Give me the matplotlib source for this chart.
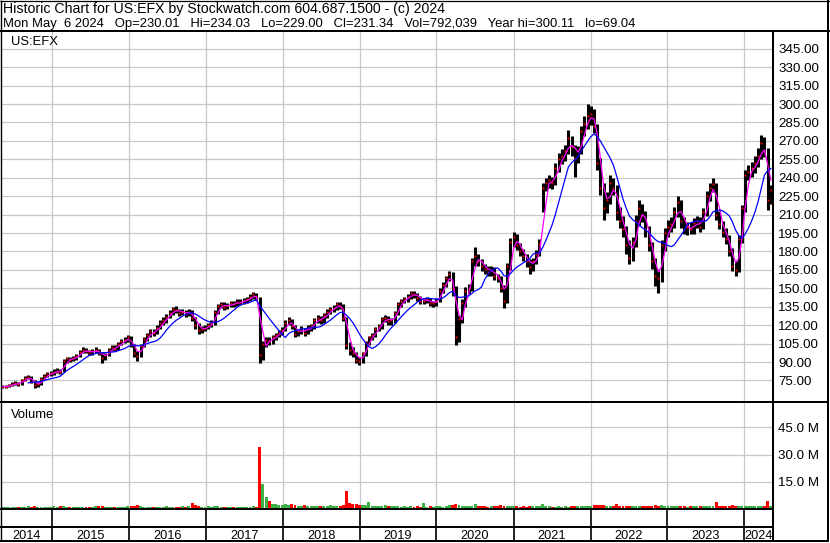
import matplotlib
matplotlib.use("Agg")
import matplotlib.pyplot as plt
from matplotlib.lines import Line2D
import pandas as pd

plt.rcParams['font.family'] = ['Liberation Sans', 'DejaVu Sans']

W, H = 830, 543

title_line = "Historic Chart for US:EFX by Stockwatch.com 604.687.1500 - (c) 2024"
quote_line = ("Mon May  6 2024   Op=230.01   Hi=234.03   Lo=229.00   Cl=231.34   "
              "Vol=792,039   Year hi=300.11   lo=69.04")
symbol = "US:EFX"

# half-monthly bars, mid May 2014 .. early May 2024
dates = pd.date_range('2014-05-12', '2024-05-06', periods=240)

close = [
    70, 70, 71, 72, 73, 72, 75, 77, 78, 74, 71, 72, 76, 79, 80, 81,
    82, 83, 82, 91, 93, 92, 93, 95, 98, 100, 99, 97, 99, 100, 97, 93, 96, 100, 102, 101, 105, 107, 108, 110,
    104, 97, 95, 103, 109, 112, 115, 114, 118, 122, 124, 127, 130, 133, 132, 130, 131, 129, 131, 126, 120, 116, 117, 118,
    120, 122, 131, 136, 137, 135, 136, 138, 137, 139, 139, 140, 141, 143, 145, 143, 96, 105, 108, 107, 110, 112, 114, 116,
    122, 124, 119, 113, 115, 117, 114, 118, 119, 124, 126, 124, 128, 131, 133, 134, 137, 136, 126, 104, 100, 97, 92, 91,
    97, 106, 110, 112, 117, 119, 125, 126, 123, 124, 130, 137, 140, 141, 143, 146, 145, 142, 140, 140, 141, 138, 138, 140,
    148, 153, 158, 162, 150, 110, 125, 138, 148, 150, 172, 176, 172, 168, 166, 163, 165, 160, 158, 150, 140, 168, 188, 192,
    185, 180, 176, 172, 167, 172, 178, 186, 232, 236, 238, 236, 248, 255, 258, 262, 272, 265, 256, 262, 278, 284, 290, 292,
    282, 252, 232, 215, 222, 236, 232, 212, 205, 198, 185, 175, 188, 205, 215, 210, 198, 185, 172, 160, 158, 185, 195, 200,
    202, 212, 220, 205, 198, 200, 198, 203, 205, 200, 212, 225, 232, 235, 210, 202, 196, 190, 180, 168, 165, 190, 215, 242,
    245, 248, 252, 258, 268, 262, 222, 230,
]

high = [
    71.5, 71.5, 72, 73.5, 74.5, 74, 76, 78.5, 79.5, 78.5, 75, 73.5, 77.5, 80, 81.5, 82.5,
    84, 85, 84, 92.5, 94.5, 94, 95, 96.5, 99.5, 102, 101.5, 100, 100.5, 102, 101, 98, 97.5, 101.5, 104, 103.5, 106.5, 109, 110, 112,
    111, 105, 99, 104.5, 110.5, 114, 117, 117, 120, 124, 126.5, 129, 132, 135, 135.5, 133.5, 133, 132.5, 133, 132, 127, 121.5, 119, 120,
    122, 124, 132.5, 137.5, 139, 138.5, 138, 140, 139.5, 141, 141, 142, 143, 145, 147, 146, 143, 107, 110, 110, 112, 114, 116, 118.5,
    124, 126.5, 125, 120, 117, 119.5, 118, 120, 121, 126, 128.5, 127.5, 130, 133, 135, 136.5, 139, 139, 137, 127, 106, 102, 98, 94.5,
    98.5, 107.5, 111.5, 114, 118.5, 121, 127, 128, 127.5, 126, 131.5, 138.5, 141.5, 143, 145, 148, 148, 146.5, 143.5, 142, 143, 142.5, 140, 142,
    150, 155, 160, 164.5, 163.5, 152, 128, 141, 151, 153.5, 175, 184, 178, 174, 170, 168, 168, 167, 162, 160, 153, 171, 191, 196,
    194, 187, 182, 178, 174, 175, 181, 190, 236, 240, 242, 241, 252, 260, 263, 267, 279, 274, 267, 266, 282, 290, 300, 298,
    296, 284, 256, 236, 228, 242, 240, 234, 216, 209, 201, 189, 192, 210, 222, 219, 213, 201, 188, 175, 166, 189, 199, 206,
    208, 216, 225, 222, 208, 204, 204, 207, 209, 208, 215, 229, 236, 240, 236, 213, 205, 199, 193, 183, 172, 193, 218, 246,
    250, 253, 258, 264, 275, 273, 264, 234,
]

low = [
    68.5, 69, 69.5, 70.5, 71, 70.5, 71.5, 74.5, 76, 73, 69, 69.5, 71.5, 75, 78, 79,
    79.5, 81, 80.5, 81.5, 89.5, 90, 91, 92, 94, 97, 97.5, 95.5, 96, 97.5, 95.5, 89.5, 92, 95, 99, 99, 100, 104, 105.5, 106.5,
    102, 94, 91, 94, 102, 107.5, 110.5, 111.5, 112.5, 116.5, 120.5, 122, 125.5, 128.5, 130, 127.5, 128, 126.5, 127.5, 123.5, 117, 113, 114, 115,
    116.5, 118.5, 120.5, 129.5, 134, 132.5, 133.5, 134.5, 135, 135.5, 136.5, 137, 138, 139.5, 141.5, 140.5, 89.5, 92, 102, 104, 105, 108, 110, 112,
    115, 120, 116.5, 110, 111, 112.5, 111, 112.5, 115.5, 117, 121.5, 121, 122, 126, 129, 130.5, 132, 133, 123, 101, 96, 94, 89, 88,
    89.5, 95, 104, 108, 110, 115, 117, 122.5, 120.5, 120, 122, 128.5, 135, 138, 139, 141.5, 142.5, 139.5, 137.5, 137.5, 138, 135.5, 135, 136,
    138.5, 146, 151, 156, 144, 104, 106, 122, 135, 145, 148, 168, 168, 164, 162, 160, 160, 157, 155, 147, 134, 138, 165, 184,
    181, 176, 172, 167, 162, 164, 170, 176, 212, 229, 232, 231, 234, 245, 251, 254, 259, 258, 241, 252, 259, 274, 280, 283,
    276, 246, 226, 206, 211, 219, 226, 206, 199, 192, 178, 170, 172, 184, 201, 204, 192, 180, 166, 152, 146, 155, 180, 192,
    196, 199, 208, 199, 194, 193, 194, 194, 199, 196, 198, 209, 221, 228, 206, 198, 192, 186, 176, 164, 160, 163, 187, 212,
    238, 241, 244, 249, 255, 257, 214, 219,
]

# volume in millions
volume = [
    1.2, 1.0, 1.1, 1.3, 0.9, 1.0, 1.2, 1.1, 1.4, 1.3, 1.6, 1.2, 1.0, 1.1, 1.3, 1.2,
    1.4, 1.2, 1.5, 1.8, 1.3, 1.1, 1.2, 1.0, 1.3, 1.1, 1.2, 1.0, 1.1, 1.4, 1.5, 1.7, 1.2, 1.1, 1.0, 1.2, 1.1, 1.3, 1.2, 1.5,
    1.8, 1.6, 2.0, 1.4, 1.3, 1.1, 1.2, 1.0, 1.1, 1.3, 1.2, 1.4, 1.1, 1.0, 1.2, 1.3, 1.4, 1.2, 1.6, 3.5, 2.2, 1.5, 1.3, 1.2,
    1.4, 1.3, 1.9, 1.5, 1.2, 1.1, 1.0, 1.3, 1.1, 1.2, 1.0, 1.1, 1.3, 1.2, 1.4, 1.2, 34.0, 14.0, 6.5, 4.2, 3.0, 2.6, 2.3, 2.0,
    2.6, 2.2, 2.8, 2.4, 1.9, 1.7, 2.0, 1.8, 1.6, 1.9, 1.7, 1.5, 1.8, 1.6, 2.1, 1.7, 1.9, 1.6, 2.4, 10.0, 3.4, 2.8, 2.6, 2.4,
    2.2, 2.0, 4.0, 1.8, 1.6, 1.5, 1.7, 2.4, 1.5, 1.4, 1.6, 1.5, 1.3, 1.4, 1.2, 1.5, 1.3, 1.4, 1.2, 3.2, 1.3, 1.5, 1.2, 1.4,
    1.5, 1.3, 1.4, 2.0, 2.4, 2.8, 2.2, 1.8, 1.6, 1.5, 1.7, 2.5, 1.6, 1.4, 1.5, 1.3, 1.6, 1.4, 1.8, 2.2, 1.9, 1.6, 1.5, 1.4,
    1.5, 1.3, 1.4, 1.2, 1.6, 1.5, 1.4, 1.7, 3.0, 1.6, 1.4, 1.3, 1.2, 1.5, 1.3, 1.4, 1.2, 1.6, 1.5, 1.4, 1.6, 1.5, 1.4, 1.7,
    2.0, 2.2, 2.4, 2.0, 1.8, 1.6, 1.9, 2.7, 1.8, 1.7, 1.6, 1.8, 1.5, 1.7, 1.6, 1.8, 1.5, 1.7, 1.9, 2.1, 1.8, 2.0, 1.6, 1.5,
    1.6, 1.5, 1.7, 1.4, 1.5, 1.3, 1.4, 1.6, 1.5, 1.4, 1.6, 1.5, 1.7, 1.9, 3.6, 1.8, 1.6, 1.7, 1.9, 2.0, 1.7, 1.8, 1.6, 1.5,
    1.6, 1.5, 1.4, 1.7, 1.5, 1.6, 4.2, 1.8,
]

price_ticks = [75, 90, 105, 120, 135, 150, 165, 180, 195, 210, 225, 240, 255, 270, 285, 300, 315, 330, 345]
volume_ticks = [15, 30, 45]
years = list(range(2014, 2025))

x_left = pd.Timestamp('2014-05-10')
x_right = pd.Timestamp('2024-05-16')
year_starts = [pd.Timestamp(f'{y}-01-01') for y in years[1:]]

grid_color = '#c8c8c8'
green = '#3cb043'


def box(x0, y0, x1, y1):
    return [x0 / W, 1 - y1 / H, (x1 - x0) / W, (y1 - y0) / H]


fig = plt.figure(figsize=(W / 100, H / 100), dpi=100)
fig.patch.set_facecolor('white')


def fline(x0, y0, x1, y1, lw=1.44):
    fig.add_artist(Line2D([x0 / W, x1 / W], [1 - y0 / H, 1 - y1 / H],
                          color='black', lw=lw, transform=fig.transFigure,
                          solid_capstyle='butt'))


def style_panel(ax):
    ax.set_xlim(x_left, x_right)
    ax.set_xticks(year_starts)
    ax.tick_params(axis='x', length=0, labelbottom=False)
    ax.yaxis.tick_right()
    ax.tick_params(axis='y', length=0, pad=3.6, labelsize=9.6)
    ax.grid(True, color=grid_color, lw=0.9)
    ax.set_axisbelow(True)
    for s in ax.spines.values():
        s.set_visible(False)


# price panel
ax = fig.add_axes(box(2, 32, 773, 401))
ax.vlines(dates, low, high, color='black', lw=2.2, zorder=2)
ax.plot(dates, close, ls='', marker='s', ms=1.3, mew=0, color='red', zorder=3)
cs = pd.Series(close)
ax.plot(dates, cs.rolling(3, min_periods=1).mean(), color='#ff00ff', lw=0.9, zorder=4)
ax.plot(dates, cs.rolling(9).mean(), color='#0000ff', lw=0.9, zorder=4)
ax.set_ylim(58.3, 358.6)
ax.set_yticks(price_ticks)
ax.set_yticklabels([f'{v:.2f}' for v in price_ticks])
style_panel(ax)
ax.text(9 / 771, 1 - (45 - 32) / 369, symbol, transform=ax.transAxes,
        fontsize=9.4, va='baseline', ha='left')

# volume panel
axv = fig.add_axes(box(2, 402, 773, 509))
vcolors = [green if i == 0 or close[i] >= close[i - 1] else 'red' for i in range(len(close))]
axv.bar(dates, volume, width=14, color=vcolors, linewidth=0, zorder=2)
axv.set_ylim(0, 59)
axv.set_yticks(volume_ticks)
axv.set_yticklabels([f'{v:.1f} M' for v in volume_ticks])
style_panel(axv)
axv.text(9 / 771, 1 - (417.7 - 402) / 107, 'Volume', transform=axv.transAxes,
         fontsize=9.4, va='baseline', ha='left')

# year strip
axy = fig.add_axes(box(2, 510, 773, 541))
axy.set_xlim(x_left, x_right)
axy.set_ylim(0, 1)
axy.axis('off')
axy.vlines(year_starts, 0, 1, color='black', lw=1.2)
bounds = [x_left] + year_starts + [x_right]
for i, y in enumerate(years):
    mid = bounds[i] + (bounds[i + 1] - bounds[i]) / 2
    axy.text(mid, 0.05, str(y), ha='center', va='baseline', fontsize=9.2)

# header
fig.text(3 / W, 1 - 12.5 / H, title_line, fontsize=10.2, va='baseline', ha='left')
fig.text(3 / W, 1 - 26.7 / H, quote_line, fontsize=9.4, va='baseline', ha='left')

# frame lines
fline(0, 0.5, W, 0.5, lw=0.9)
fline(0.7, 0, 0.7, 541, lw=1.0)
fline(828.3, 0, 828.3, 542, lw=1.44)
fline(0, 541, 829, 541, lw=1.44)
fline(0, 31, W, 31)
fline(773, 31, 773, 541)
fline(0, 401.7, 829, 401.7)
fline(0, 509.3, 773, 509.3)
fline(0, 526.7, 773, 526.7)

fig.savefig('out.png', dpi=100, facecolor='white')
